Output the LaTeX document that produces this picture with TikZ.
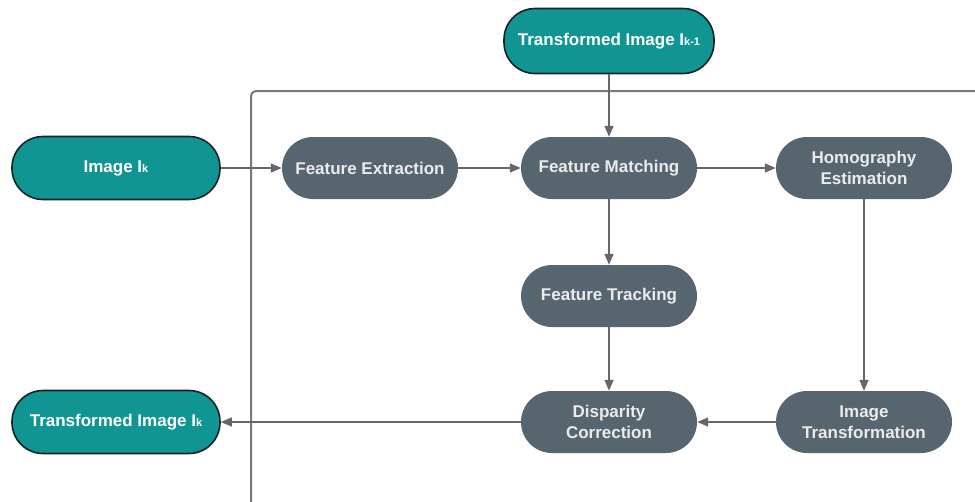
\documentclass[tikz,border=0pt]{standalone}
\usepackage{fontspec}
\setmainfont{Liberation Sans}
\usetikzlibrary{arrows.meta}
\definecolor{tealfill}{RGB}{16,149,147}
\definecolor{tealline}{RGB}{20,36,38}
\definecolor{slatefill}{RGB}{86,101,110}
\definecolor{linkgray}{RGB}{100,104,108}
\definecolor{framegray}{RGB}{120,122,125}
\newcommand{\subk}[1]{\raisebox{-0.5pt}{\fontsize{11}{11}\selectfont #1}}
\begin{document}
\begin{tikzpicture}[x=1pt,y=-1pt,
  io/.style={draw=tealline,line width=1.6pt,fill=tealfill,text=white,
    rounded corners=31pt,minimum width=208pt,minimum height=63pt,
    font=\fontsize{17}{21}\selectfont\bfseries,align=center,inner sep=0pt},
  proc/.style={fill=slatefill,text=white!92!black,
    rounded corners=31pt,minimum width=176pt,minimum height=62pt,
    font=\fontsize{17}{21}\selectfont\bfseries,align=center,inner sep=0pt},
  link/.style={draw=linkgray,line width=1.4pt,
    -{Triangle[length=11pt,width=9pt]}}]
\useasboundingbox (0,0) rectangle (975,501);
% enclosing frame, open to the right and bottom
\draw[framegray,line width=2pt,rounded corners=5pt] (251,510) -- (251,91) -- (985,91);
% inputs and output
\node[io,minimum width=210pt,minimum height=65pt] (prev) at (609,41) {Transformed Image I\subk{k-1}};
\node[io] (img) at (116,168) {Image I\subk{k}};
\node[io] (out) at (116,422) {Transformed Image I\subk{k}};
% processing steps
\node[proc] (fext) at (370,168) {Feature Extraction};
\node[proc] (fmat) at (609,168) {Feature Matching};
\node[proc] (homo) at (864,168) {Homography\\Estimation};
\node[proc] (ftrk) at (609,296) {Feature Tracking};
\node[proc] (disp) at (609,422) {Disparity\\Correction};
\node[proc] (itrf) at (864,422) {Image\\Transformation};
% connectors
\draw[link] (img) -- (fext);
\draw[link] (fext) -- (fmat);
\draw[link] (fmat) -- (homo);
\draw[link] (prev) -- (fmat);
\draw[link] (fmat) -- (ftrk);
\draw[link] (ftrk) -- (disp);
\draw[link] (homo) -- (itrf);
\draw[link] (itrf) -- (disp);
\draw[link] (disp) -- (out);
\end{tikzpicture}
\end{document}
